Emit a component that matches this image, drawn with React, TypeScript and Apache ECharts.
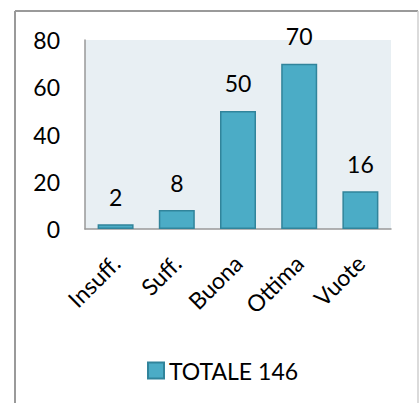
import React, { useEffect, useRef } from "react";
import * as echarts from "echarts";

const categories = ["Insuff.", "Suff.", "Buona", "Ottima", "Vuote"];
const values = [2, 8, 50, 70, 16];
const seriesName = "TOTALE 146";
const yTicks = { min: 0, max: 80, interval: 20 };

export default function App() {
  const ref = useRef<HTMLDivElement>(null);
  useEffect(() => {
    if (!ref.current) return;
    const chart = echarts.init(ref.current, null, { renderer: "svg" });
    const font = "Lato";
    const fs = 23;
    chart.setOption({
      animation: false,
      backgroundColor: "#ffffff",
      textStyle: { fontFamily: font, color: "#000" },
      graphic: [
        { type: "line", shape: { x1: 15, y1: 11, x2: 418, y2: 11 }, style: { stroke: "#9a9a9a", lineWidth: 2 } },
        { type: "line", shape: { x1: 15, y1: 11, x2: 15, y2: 403 }, style: { stroke: "#9a9a9a", lineWidth: 2 } },
        { type: "line", shape: { x1: 418, y1: 11, x2: 418, y2: 403 }, style: { stroke: "#cfcfcf", lineWidth: 1.5 } },
      ],
      grid: {
        left: 85,
        top: 40,
        width: 306,
        height: 189,
        show: true,
        backgroundColor: "#e8eff3",
        borderWidth: 0,
        containLabel: false,
      },
      legend: {
        left: 142,
        top: 354,
        itemWidth: 16,
        itemHeight: 16,
        icon: "rect",
        textStyle: { fontFamily: font, fontSize: fs, color: "#000" },
        data: [seriesName],
      },
      xAxis: {
        type: "category",
        data: categories,
        axisLine: { show: true, lineStyle: { color: "#999", width: 1.5 } },
        axisTick: { show: false },
        axisLabel: { rotate: 45, fontFamily: font, fontSize: fs, color: "#000", margin: 30, interval: 0 },
      },
      yAxis: {
        type: "value",
        min: yTicks.min,
        max: yTicks.max,
        interval: yTicks.interval,
        splitLine: { show: false },
        axisLine: { show: true, lineStyle: { color: "#999", width: 1.5 } },
        axisTick: { show: false },
        axisLabel: { fontFamily: font, fontSize: fs, color: "#000", margin: 25 },
      },
      series: [
        {
          name: seriesName,
          type: "bar",
          data: values,
          barWidth: 36,
          itemStyle: { color: "#4bacc6", borderColor: "#31849b", borderWidth: 1.5 },
          label: { show: true, position: "top", distance: 16, fontFamily: font, fontSize: fs, color: "#000" },
        },
      ],
    });
    return () => chart.dispose();
  }, []);
  return <div ref={ref} style={{ position: "fixed", left: 0, top: 0, width: 419, height: 403 }} />;
}
